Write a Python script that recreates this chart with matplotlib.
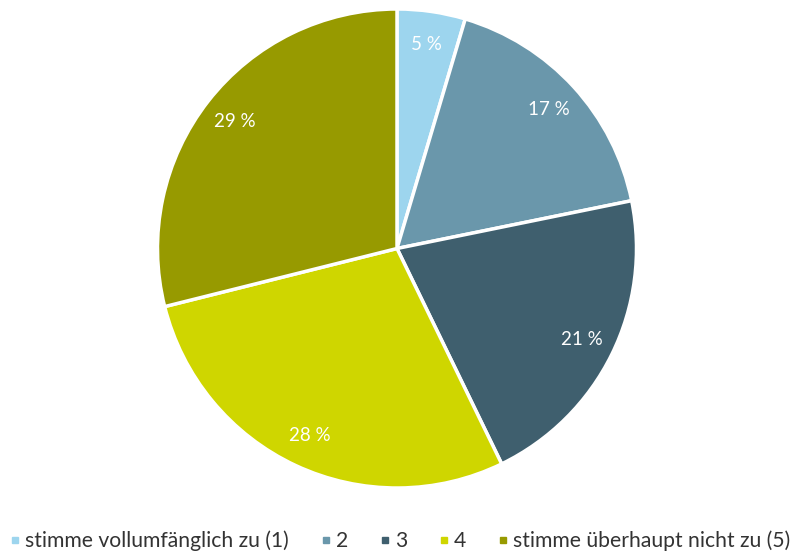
import matplotlib
matplotlib.use("Agg")
import matplotlib.pyplot as plt
from matplotlib.lines import Line2D

categories = ["stimme vollumfänglich zu (1)", "2", "3", "4", "stimme überhaupt nicht zu (5)"]
values = [4.6, 17.2, 21.0, 28.3, 28.9]
labels = ["5 %", "17 %", "21 %", "28 %", "29 %"]
colors = ["#9dd5ee", "#6a97ab", "#3f5f6e", "#cfd600", "#979a00"]

plt.rcParams['font.family'] = ['Lato', 'DejaVu Sans']

fig = plt.figure(figsize=(7.92, 5.51), dpi=100)
ax = fig.add_axes([0.0, 0.0, 1.0, 1.0])

wedges, texts, autotexts = ax.pie(
    values, colors=colors, startangle=90, counterclock=False,
    center=(397, 551 - 248.5), radius=239.5, frame=True,
    autopct="%.0f", pctdistance=0.86,
    wedgeprops=dict(edgecolor="white", linewidth=2.5),
    textprops=dict(color="white", fontsize=13.5))
for t, lab in zip(autotexts, labels):
    t.set_text(lab)
ax.set_xlim(0, 792)
ax.set_ylim(0, 551)
ax.set_aspect("equal")
ax.axis("off")

handles = [Line2D([0], [0], marker="s", linestyle="none", markersize=5,
                  markerfacecolor=c, markeredgecolor=c) for c in colors]
fig.legend(handles, categories, loc="lower center", ncol=5, frameon=False,
           fontsize=15.2, handlelength=0.5, handletextpad=0.22, columnspacing=1.5,
           bbox_to_anchor=(0.505, -0.035), labelcolor="#333333")

fig.savefig("out.png", dpi=100)
